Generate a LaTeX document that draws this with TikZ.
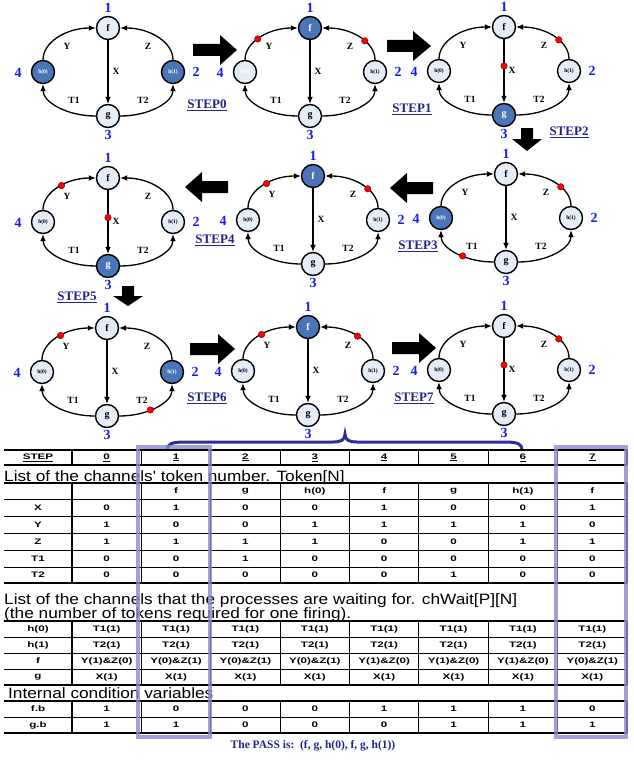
\documentclass[tikz,border=0pt]{standalone}
\usepackage{fontspec}
\setmainfont{Liberation Serif}
\newfontfamily\arialf{Liberation Sans}
\newfontfamily\widef[FakeStretch=1.45]{Liberation Sans}
\newfontfamily\titlef[FakeStretch=1.15]{Liberation Sans}
\usetikzlibrary{arrows.meta}
\definecolor{nodefill}{HTML}{E4ECF7}
\definecolor{nodedark}{HTML}{4A76B8}
\definecolor{numblue}{HTML}{1A1AF0}
\definecolor{stepblue}{HTML}{23238A}
\definecolor{hlblue}{HTML}{8A8ACF}
\definecolor{tokred}{HTML}{FF0000}
\definecolor{bracecol}{HTML}{2E2E96}
\tikzset{
 pn/.style={circle, draw=black, line width=1.4pt, fill=nodefill, minimum size=23pt, inner sep=0pt, font=\bfseries\fontsize{10}{10}\selectfont},
 pnd/.style={pn, fill=nodedark, text=white},
 pnw/.style={pn, text=white},
 hfont/.style={font=\bfseries\fontsize{5.5}{6}\selectfont},
 parc/.style={line width=1.3pt, -{Latex[length=7pt,width=6pt]}},
 tok/.style={circle, fill=tokred, draw=black!60!red, line width=0.4pt, minimum size=6.5pt, inner sep=0pt},
 elab/.style={font=\bfseries\fontsize{9.5}{10}\selectfont},
 numlab/.style={text=numblue, font=\bfseries\fontsize{14}{14}\selectfont},
 steplab/.style={text=stepblue, font=\bfseries\fontsize{13}{13}\selectfont},
 bigarrow/.style={fill=black},
 tcell/.style={font=\widef\bfseries\fontsize{8}{8}\selectfont, inner sep=0pt},
 ttitle/.style={font=\titlef\fontsize{15}{15}\selectfont, inner sep=0pt, anchor=base west},
 thick rule/.style={line width=2.2pt},
 thin rule/.style={line width=0.9pt},
 vrule/.style={line width=1.2pt},
 hlrect/.style={draw=hlblue, line width=3.5pt, opacity=0.8},
}
\newcommand\pgraph[7]{%
 \node[#4] (#1f) at (#2,#3-44) {f};
 \node[#5] (#1g) at (#2,#3+44) {g};
 \node[#6,hfont] (#1h0) at (#2-65,#3) {h(0)};
 \node[#7,hfont] (#1h1) at (#2+65,#3) {h(1)};
 \draw[parc] (#1h0.north) .. controls +(0,-18) and +(-29,0) .. (#1f.west);
 \draw[parc] (#1h1.north) .. controls +(0,-18) and +(29,0) .. (#1f.east);
 \draw[parc] (#1f) -- (#1g);
 \draw[parc] (#1g.west) .. controls +(-29,0) and +(0,18) .. (#1h0.south);
 \draw[parc] (#1g.east) .. controls +(29,0) and +(0,18) .. (#1h1.south);
 \node[elab] (#1lY) at (#2-41,#3-26) {Y};
 \node[elab] (#1lZ) at (#2+40,#3-26) {Z};
 \node[elab] (#1lX) at (#2+8,#3-1) {X};
 \node[elab] (#1lTa) at (#2-34,#3+28) {T1};
 \node[elab] (#1lTb) at (#2+35,#3+28) {T2};
 \node[numlab] (#1n1) at (#2,#3-64) {1};
 \node[numlab] (#1n3) at (#2,#3+63) {3};
 \node[numlab] (#1n4) at (#2-90,#3+1) {4};
 \node[numlab] (#1n2) at (#2+88,#3) {2};
}
\newcommand\tokY[2]{\path (#1h0.north) .. controls +(0,-18) and +(-29,0) .. (#1f.west) node[tok,pos=#2] (#1tY) {};}
\newcommand\tokZ[2]{\path (#1h1.north) .. controls +(0,-18) and +(29,0) .. (#1f.east) node[tok,pos=#2] (#1tZ) {};}
\newcommand\tokX[2]{\path (#1f) -- (#1g) node[tok,pos=#2] (#1tX) {};}
\newcommand\tokTa[2]{\path (#1g.west) .. controls +(-29,0) and +(0,18) .. (#1h0.south) node[tok,pos=#2] (#1tTa) {};}
\newcommand\tokTb[2]{\path (#1g.east) .. controls +(29,0) and +(0,18) .. (#1h1.south) node[tok,pos=#2] (#1tTb) {};}
\newcommand\rarrow[4]{\fill[bigarrow] (#1,#4-6) -- (#2,#4-6) -- (#2,#4-15) -- (#3,#4) -- (#2,#4+15) -- (#2,#4+6) -- (#1,#4+6) -- cycle;}
\newcommand\darrow[4]{\fill[bigarrow] (#1-6,#2) -- (#1+6,#2) -- (#1+6,#3) -- (#1+15,#3) -- (#1,#4) -- (#1-15,#3) -- (#1-6,#3) -- cycle;}
\newcommand\trow[3]{%
 \foreach \t [count=\c from 0] in {#3}{%
   \pgfmathsetmacro\xx{\c==0 ? 38 : 106.69+69.375*(\c-1)}%
   \node[tcell] (#2-\c) at (\xx,#1) {\t};}}
\newcommand\vlines[2]{%
 \foreach \k in {0,...,8}{%
   \pgfmathsetmacro\vx{72+69.375*\k}%
   \draw[vrule] (\vx,#1) -- (\vx,#2);}}
\begin{document}
\begin{tikzpicture}[x=1pt,y=-1pt]
\useasboundingbox (0,0) rectangle (633,760);
\fill[white] (0,0) rectangle (633,760);
% graphs
\pgraph{gA}{108}{72}{pn}{pn}{pnd}{pnd}
\pgraph{gB}{310}{72}{pnd}{pn}{pnw}{pn}
\tokY{gB}{0.45}\tokZ{gB}{0.4}
\pgraph{gC}{504}{71}{pn}{pnd}{pn}{pn}
\tokX{gC}{0.42}\tokZ{gC}{0.4}
\pgraph{gD}{506}{218}{pn}{pn}{pnd}{pn}
\tokZ{gD}{0.4}\tokTa{gD}{0.4}
\pgraph{gE}{313}{220}{pnd}{pn}{pn}{pn}
\tokY{gE}{0.55}\tokZ{gE}{0.4}
\pgraph{gF}{108}{222}{pn}{pnd}{pn}{pn}
\tokY{gF}{0.55}\tokX{gF}{0.43}
\pgraph{gG}{107}{372}{pn}{pn}{pn}{pnd}
\tokY{gG}{0.55}\tokTb{gG}{0.4}
\pgraph{gH}{308}{371}{pnd}{pn}{pn}{pn}
\tokY{gH}{0.55}\tokZ{gH}{0.5}
\pgraph{gI}{504}{370}{pn}{pn}{pn}{pn}
\tokX{gI}{0.42}\tokZ{gI}{0.4}
% big arrows
\rarrow{193}{220}{237}{50}
\rarrow{387}{413}{431}{46}
\darrow{527}{128}{139}{151}
\rarrow{433}{407}{390}{188}
\rarrow{228}{202}{185}{187}
\darrow{128}{286}{296}{306}
\rarrow{190}{218}{235}{349}
\rarrow{392}{419}{436}{348}
% step labels
\node[steplab] (s0) at (207,105) {\underline{STEP0}};
\node[steplab] (s1) at (412,109) {\underline{STEP1}};
\node[steplab] (s2) at (569,132) {\underline{STEP2}};
\node[steplab] (s3) at (418,246) {\underline{STEP3}};
\node[steplab] (s4) at (215,240) {\underline{STEP4}};
\node[steplab] (s5) at (77,297) {\underline{STEP5}};
\node[steplab] (s6) at (207,398) {\underline{STEP6}};
\node[steplab] (s7) at (414,398) {\underline{STEP7}};
% brace
\draw[bracecol, line width=3pt] (167,450) .. controls (167,444) and (172,442) .. (185,442) -- (333,442) .. controls (341,442) and (345,440) .. (345,434) .. controls (345,440) and (349,442) .. (357,442) -- (505,442) .. controls (518,442) and (522,444) .. (522,450);
% STEP row
\draw[thick rule] (4,450) -- (627,450);
\draw[thick rule] (4,465) -- (627,465);
\vlines{450}{465}
\trow{457.5}{rs}{\underline{STEP},\underline{0},\underline{1},\underline{2},\underline{3},\underline{4},\underline{5},\underline{6},\underline{7}}
% table 1
\node[ttitle] (ti1) at (4,481) {List of the channels' token number. Token[N]};
\draw[thick rule] (4,483) -- (627,483);
\foreach \yy in {499,516,533,550,567}{\draw[thin rule] (4,\yy) -- (627,\yy);}
\draw[thick rule] (4,583) -- (627,583);
\vlines{483}{583}
\trow{491}{ra}{,,f,g,h(0),f,g,h(1),f}
\trow{507.5}{rx}{X,0,1,0,0,1,0,0,1}
\trow{524.5}{ry}{Y,1,0,0,1,1,1,1,0}
\trow{541.5}{rz}{Z,1,1,1,1,0,0,1,1}
\trow{558.5}{rt}{T1,0,0,1,0,0,0,0,0}
\trow{575}{ru}{T2,0,0,0,0,0,1,0,0}
% table 2
\node[ttitle] (ti2) at (4,604) {List of the channels that the processes are waiting for. chWait[P][N]};
\node[ttitle] (ti3) at (4,618) {(the number of tokens required for one firing).};
\draw[thick rule] (4,621) -- (627,621);
\foreach \yy in {637,653,669}{\draw[thin rule] (4,\yy) -- (627,\yy);}
\draw[thick rule] (4,685) -- (627,685);
\vlines{621}{685}
\trow{629}{rh}{h(0),T1(1),T1(1),T1(1),T1(1),T1(1),T1(1),T1(1),T1(1)}
\trow{645}{ri}{h(1),T2(1),T2(1),T2(1),T2(1),T2(1),T2(1),T2(1),T2(1)}
\trow{661}{rf}{f,Y(1)\&Z(0),Y(0)\&Z(1),Y(0)\&Z(1),Y(0)\&Z(1),Y(1)\&Z(0),Y(1)\&Z(0),Y(1)\&Z(0),Y(0)\&Z(1)}
\trow{677}{rg}{g,X(1),X(1),X(1),X(1),X(1),X(1),X(1),X(1)}
% table 3
\node[ttitle] (ti4) at (8,698) {Internal condition variables};
\draw[thick rule] (4,701) -- (627,701);
\draw[thin rule] (4,717) -- (627,717);
\draw[thick rule] (4,733) -- (627,733);
\vlines{701}{733}
\trow{709}{rb}{f.b,1,0,0,0,1,1,1,0}
\trow{725}{rc}{g.b,1,1,0,0,0,1,1,1}
% highlights
\draw[hlrect] (138,447) rectangle (210,737);
\draw[hlrect] (556,447) rectangle (626,737);
% pass
\node[text=stepblue, font=\bfseries\fontsize{11.5}{12}\selectfont] (pass) at (313,746) {The PASS is:~~(f, g, h(0), f, g, h(1))};
\end{tikzpicture}
\end{document}
